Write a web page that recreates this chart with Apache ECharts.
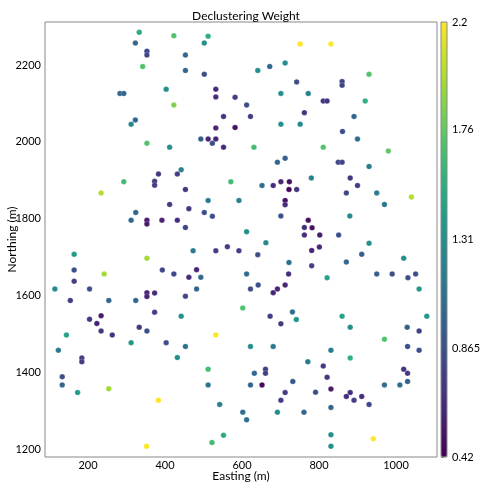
<!DOCTYPE html>
<html><head><meta charset="utf-8">
<script src="https://cdn.jsdelivr.net/npm/echarts@6/dist/echarts.min.js"></script>
<style>html,body{margin:0;padding:0;background:#fff}#c{width:481px;height:490px}</style>
</head><body><div id="c"></div>
<script>
// Easting (m)
const easting = [333,423,323,353,353,342,283,293,403,423,323,312,512,502,751,453,453,502,641,672,712,742,532,532,582,612,701,772,762,552,622,532,582,701,751,831,930,860,860,811,821,920,891,861,353,412,383,432,442,373,373,293,234,412,324,312,353,353,392,432,493,512,532,523,552,631,692,712,571,652,681,701,723,722,742,780,453,512,592,712,712,462,502,523,701,453,612,772,762,782,762,900,811,980,850,860,930,881,900,871,950,1040,970,880,802,851,164,353,393,423,164,242,164,114,204,154,254,324,353,353,373,373,442,234,204,223,333,234,353,263,144,312,403,662,473,532,562,592,641,781,722,781,482,462,493,612,721,482,622,642,712,692,681,453,602,673,731,741,701,532,453,622,681,930,801,911,1020,871,821,950,990,1031,1051,1060,860,1080,881,1029,1060,970,1030,123,184,184,432,133,133,173,254,383,352,512,771,632,661,661,512,622,652,732,712,701,542,602,692,761,612,552,522,831,881,811,1060,821,1020,1030,831,791,970,1010,1030,881,871,911,891,930,831,831,831,941];
// Northing (m)
const northing = [2285,2276,2257,2236,2226,2196,2126,2126,2137,2096,2057,2046,2275,2257,2255,2226,2186,2176,2186,2196,2205,2156,2137,2117,2116,2096,2126,2126,2076,2066,2066,2036,2037,2046,2046,2255,2176,2157,2147,2106,2106,2106,2066,2027,1996,1986,1916,1916,1927,1897,1887,1896,1867,1837,1816,1796,1796,1786,1796,1796,2007,2007,2007,1996,1986,1986,1947,1957,1896,1886,1886,1896,1896,1876,1876,1906,1876,1847,1847,1847,1836,1826,1816,1806,1807,1777,1766,1796,1777,1776,1757,2007,1986,1976,1947,1947,1936,1906,1886,1867,1867,1856,1837,1807,1757,1757,1707,1697,1666,1656,1666,1656,1637,1617,1617,1587,1587,1587,1607,1597,1606,1556,1546,1547,1538,1527,1517,1507,1507,1497,1497,1477,1477,1737,1716,1716,1727,1716,1706,1717,1686,1677,1667,1647,1647,1656,1656,1617,1617,1627,1627,1617,1607,1598,1567,1546,1557,1537,1526,1497,1467,1467,1467,1736,1726,1707,1697,1687,1646,1656,1656,1646,1656,1617,1546,1546,1517,1517,1507,1486,1467,1457,1437,1427,1438,1388,1367,1347,1357,1327,1207,1408,1427,1397,1408,1397,1367,1367,1367,1376,1347,1327,1316,1296,1296,1296,1276,1236,1217,1457,1437,1416,1457,1387,1408,1397,1356,1348,1367,1367,1376,1347,1337,1337,1327,1316,1308,1237,1207,1227];
// Declustering weight
const weight = [1.5,1.7,1.0,0.8,0.8,1.7,1.0,1.0,1.3,1.85,1.0,1.25,1.55,1.3,2.2,1.0,1.0,0.85,1.3,1.0,1.3,0.85,0.65,0.65,0.75,0.85,1.3,1.2,0.7,0.7,0.75,0.6,0.5,1.3,1.25,2.2,1.7,0.8,0.8,0.7,0.7,1.55,1.0,0.85,1.7,1.3,0.7,0.75,1.2,0.75,0.75,1.65,2.0,0.75,1.0,1.0,0.55,0.55,0.6,0.65,0.95,0.6,0.6,0.85,0.65,1.65,1.0,0.95,1.65,1.05,0.65,0.6,0.5,0.45,0.7,1.2,0.7,1.15,1.2,0.5,0.65,0.7,0.85,0.85,0.85,0.8,1.3,0.5,0.65,0.5,0.65,1.05,1.7,1.75,0.8,0.8,1.15,0.7,0.75,0.8,1.15,2.0,1.15,1.25,0.55,0.85,1.4,1.95,0.8,0.8,0.85,1.95,0.75,1.25,0.85,0.75,1.0,1.0,0.6,0.6,0.65,0.75,1.3,0.55,0.7,0.6,0.7,0.7,0.85,0.7,1.45,1.35,0.85,1.25,1.15,0.75,0.75,0.75,0.85,0.6,1.05,0.75,0.6,0.65,1.0,1.05,0.65,1.0,0.85,0.85,0.6,0.6,0.6,0.8,1.7,0.75,1.05,1.35,0.7,2.2,1.1,1.3,1.15,1.3,0.6,0.95,1.3,1.0,1.45,0.95,0.85,0.85,0.85,1.35,1.45,1.35,1.3,0.95,0.75,1.7,0.85,1.15,0.75,0.75,1.3,0.85,1.0,1.4,1.95,2.2,2.2,1.65,1.15,1.0,0.75,0.75,1.1,1.0,0.45,0.9,0.75,0.75,1.2,1.05,1.3,1.0,1.05,1.5,1.65,1.15,1.55,0.7,0.85,0.7,0.7,0.7,0.55,0.85,1.05,1.05,0.95,0.65,0.65,0.65,0.75,0.8,1.0,1.3,1.3,2.2];
const xTicks = [200,400,600,800,1000];
const yTicks = [1200,1400,1600,1800,2000,2200];
const cbTicks = [0.42,0.865,1.31,1.76,2.2];
const viridis = ['#440154','#482878','#3e4989','#31688e','#26828e','#1f9e89','#35b779','#6ece58','#b5de2b','#fde725'];

const data = easting.map((e,i)=>[e, northing[i], weight[i]]);
const font = 'Lato, "Open Sans", sans-serif';
const chart = echarts.init(document.getElementById('c'), null, {renderer:'canvas'});
chart.setOption({
  animation:false,
  backgroundColor:'#fff',
  title:{text:'Declustering Weight', left:241, top:5, textAlign:'center',
    textStyle:{fontFamily:font, fontSize:12, fontWeight:'normal', color:'#000'}},
  grid:[
    {left:45, top:22, width:392, height:435, containLabel:false, outerBoundsMode:'none', show:true, borderColor:'#888', borderWidth:1, backgroundColor:'transparent'},
    {left:441, top:22, width:6, height:435, containLabel:false, outerBoundsMode:'none', show:true, borderColor:'#888', borderWidth:1, backgroundColor:'transparent', z:10}
  ],
  xAxis:[
    {type:'value', gridIndex:0, min:88.3, max:1106.5, name:'Easting (m)', nameLocation:'middle', nameGap:13, nameMoveOverlap:false,
     nameTextStyle:{fontFamily:font, fontSize:12, color:'#000'},
     axisLine:{show:false}, splitLine:{show:false},
     axisTick:{show:false, customValues:xTicks},
     axisLabel:{customValues:xTicks, fontFamily:font, fontSize:11, color:'#000', margin:3, formatter:v=>String(v)}},
    {type:'value', gridIndex:1, show:false, min:0, max:1}
  ],
  yAxis:[
    {type:'value', gridIndex:0, min:1179.2, max:2312, name:'Northing (m)', nameLocation:'middle', nameGap:27, nameMoveOverlap:false,
     nameTextStyle:{fontFamily:font, fontSize:12, color:'#000'},
     axisLine:{show:false}, splitLine:{show:false},
     axisTick:{show:false, customValues:yTicks},
     axisLabel:{customValues:yTicks, fontFamily:font, fontSize:11, color:'#000', margin:4, formatter:v=>String(v)}},
    {type:'value', gridIndex:1, position:'right', min:0.42, max:2.2,
     axisLine:{show:false}, splitLine:{show:false},
     axisTick:{show:true, customValues:cbTicks, length:3, lineStyle:{color:'#888'}},
     axisLabel:{customValues:cbTicks, fontFamily:font, fontSize:11, color:'#000', margin:5,
       formatter:v=>{let b=cbTicks[0];cbTicks.forEach(t=>{if(Math.abs(t-v)<Math.abs(b-v))b=t;});return String(b);}}}
  ],
  visualMap:{type:'continuous', min:0.42, max:2.2, dimension:2, seriesIndex:0,
    left:441, top:22, itemWidth:6, itemHeight:435, padding:0, calculable:false, text:null, showLabel:false,
    inRange:{color:viridis}, hoverLink:false},
  series:[{type:'scatter', xAxisIndex:0, yAxisIndex:0, data:data, symbolSize:5.5,
    itemStyle:{opacity:1, borderColor:'rgba(255,255,255,0.5)', borderWidth:0.4}}]
});
</script></body></html>
